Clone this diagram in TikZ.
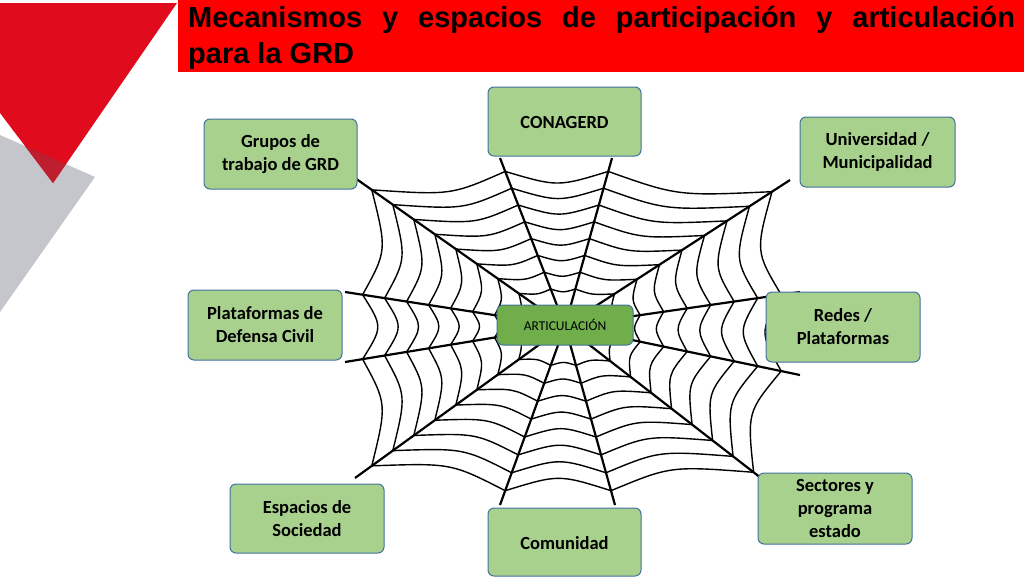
\documentclass[tikz,border=0pt]{standalone}
\usepackage{fontspec}
\setmainfont{Carlito}
\newfontfamily\arialf{Liberation Sans}
\usetikzlibrary{calc}
\definecolor{boxg}{HTML}{A9D18E}
\definecolor{boxd}{HTML}{6FAE4A}
\definecolor{boxb}{HTML}{41719C}
\definecolor{redA}{HTML}{E00B1C}
\definecolor{redB}{HTML}{BE1E2D}
\definecolor{grayA}{HTML}{C5C6CC}
\tikzset{
  gbox/.style={draw=boxb,fill=boxg,rounded corners=6pt,line width=1pt,align=center,font=\bfseries\fontsize{18.5}{23}\selectfont},
  spoke/.style={line width=2.2pt,black},
  ring/.style={line width=1.4pt,black}
}
\begin{document}
\begin{tikzpicture}[x=1pt,y=-1pt]
\useasboundingbox (0,0) rectangle (1024,576);
% decoration
\fill[grayA] (0,135) -- (95,177) -- (0,312) -- cycle;
\fill[redA] (0,3) -- (177,3) -- (53,183) -- (0,113) -- cycle;
\begin{scope}
\clip (0,3) -- (177,3) -- (53,183) -- (0,113) -- cycle;
\fill[redB] (0,135) -- (95,177) -- (0,312) -- cycle;
\end{scope}
% title
\fill[red] (178,0) rectangle (1024,72);
\node[anchor=base west,inner sep=0,font=\arialf\bfseries\fontsize{29}{32}\selectfont] (t1) at (188,27) {\makebox[827pt][s]{Mecanismos y espacios de participación y articulación}};
\node[anchor=base west,inner sep=0,font=\arialf\bfseries\fontsize{29}{32}\selectfont] (t2) at (188,63) {para la GRD};
% web
\coordinate (c) at (565,326);
\coordinate (s1) at (800,292);
\coordinate (s2) at (790,180);
\coordinate (s3) at (612,158);
\coordinate (s4) at (500,158);
\coordinate (s5) at (355,178);
\coordinate (s6) at (345,292);
\coordinate (s7) at (345,362);
\coordinate (s8) at (355,478);
\coordinate (s9) at (500,505);
\coordinate (s10) at (615,505);
\coordinate (s11) at (770,485);
\coordinate (s12) at (800,375);
\foreach \i in {1,...,12} \draw[spoke] (c) -- (s\i);
\foreach \i [evaluate=\i as \j using {int(mod(\i,12)+1)}] in {1,...,12} {
  \foreach \t in {0.22,0.32,0.42,0.52,0.62,0.72,0.82,0.92} {
    \coordinate (pa) at ($(c)!\t!(s\i)$);
    \coordinate (pb) at ($(c)!\t!(s\j)$);
    \coordinate (pm) at ($(pa)!0.5!(pb)$);
    \draw[ring] (pa) .. controls ($(c)!0.9!(pm)$) .. (pb);
  }
}
% boxes
\node[gbox,minimum width=136pt,minimum height=40pt,fill=boxd,font=\fontsize{13.5}{15}\selectfont] (art) at (565,325) {ARTICULACIÓN};
\node[gbox,minimum width=153pt,minimum height=69pt] (cg) at (564.5,121.5) {};
\node[inner sep=0,font=\bfseries\fontsize{18.5}{23}\selectfont] (cgt) at (564.5,122) {CONAGERD};
\node[gbox,minimum width=153pt,minimum height=70pt] (gr) at (280.5,154) {Grupos de\\trabajo de GRD};
\node[gbox,minimum width=155pt,minimum height=70pt] (un) at (877.5,152) {Universidad /\\Municipalidad};
\node[gbox,minimum width=154pt,minimum height=70pt] (pl) at (265,325) {Plataformas de\\Defensa Civil};
\node[gbox,minimum width=154pt,minimum height=70pt] (re) at (843,327) {Redes /\\Plataformas};
\node[gbox,minimum width=154pt,minimum height=69pt] (es) at (307,518.5) {Espacios de\\Sociedad};
\node[gbox,minimum width=153pt,minimum height=68pt] (co) at (564.5,542) {};
\node[inner sep=0,font=\bfseries\fontsize{18.5}{23}\selectfont] (cot) at (564.5,543) {Comunidad};
\node[gbox,minimum width=154pt,minimum height=71pt] (se) at (835,508.5) {Sectores y\\programa\\estado};
\end{tikzpicture}
\end{document}
